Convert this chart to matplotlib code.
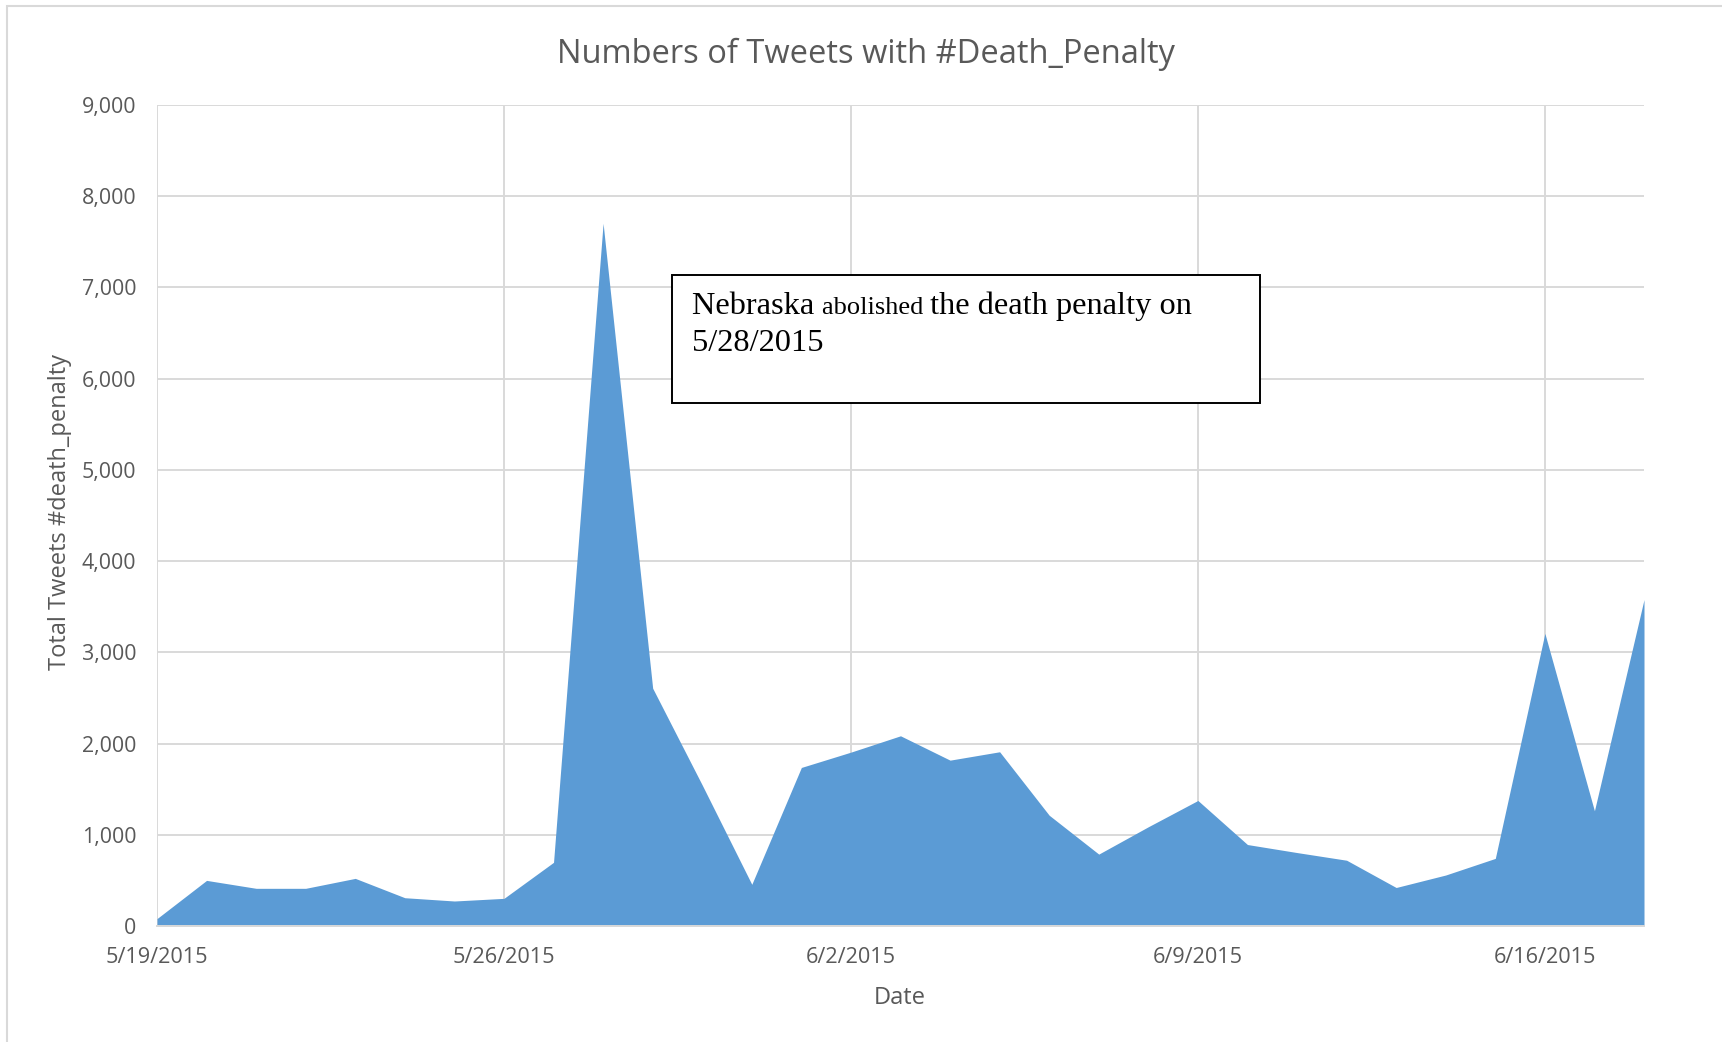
import matplotlib
matplotlib.use("Agg")
import matplotlib.pyplot as plt
import pandas as pd
from matplotlib.patches import Rectangle

dates = pd.date_range("2015-05-19", "2015-06-18", freq="D")
tweets = [81, 500, 413, 413, 522, 310, 274, 303, 698, 7703,
          2607, 1545, 457, 1738, 1906, 2085, 1818, 1910, 1214, 788,
          1088, 1376, 893, 805, 721, 422, 559, 741, 3208, 1263, 3578]
tick_dates = pd.to_datetime(["2015-05-19", "2015-05-26", "2015-06-02", "2015-06-09", "2015-06-16"])
tick_labels = ["5/19/2015", "5/26/2015", "6/2/2015", "6/9/2015", "6/16/2015"]
y_ticks = list(range(0, 9001, 1000))

W, H = 1722, 1042
fig = plt.figure(figsize=(W / 100, H / 100), dpi=100)
gray = "#595959"
grid = "#d9d9d9"

# chart area border
fig.patches.append(Rectangle((7 / W, -0.01), 1.1, 1 - 6 / H + 0.01, transform=fig.transFigure,
                             fill=False, edgecolor=grid, linewidth=1.5))

ax = fig.add_axes([157 / W, 1 - 926 / H, (1644 - 157) / W, (926 - 105) / H])
ax.fill_between(dates, tweets, 0, color="#5B9BD5", linewidth=0, zorder=2)
ax.set_xlim(dates[0], dates[-1])
ax.set_ylim(0, 9000)
ax.set_yticks(y_ticks)
ax.set_yticklabels([f"{v:,}" for v in y_ticks])
ax.set_xticks(tick_dates)
ax.set_xticklabels(tick_labels)
ax.grid(True, color=grid, linewidth=1.4, zorder=0)
ax.set_axisbelow(True)
for s in ["top", "right", "left"]:
    ax.spines[s].set_visible(False)
ax.spines["bottom"].set_color(grid)
ax.spines["bottom"].set_linewidth(1.4)
ax.spines["bottom"].set_zorder(3)
ax.tick_params(length=0, colors=gray)
ax.tick_params(axis="y", pad=15, labelsize=15.4)
ax.tick_params(axis="x", pad=15, labelsize=15.6)
for lab in ax.get_xticklabels() + ax.get_yticklabels():
    lab.set_fontfamily("Open Sans")

fig.text(866 / W, 1 - 54 / H, "Numbers of Tweets with #Death_Penalty", ha="center", va="center",
         fontsize=23.5, color=gray, family="Open Sans")
fig.text(900 / W, 1 - 998 / H, "Date", ha="center", va="center", fontsize=17, color=gray,
         family="Open Sans")
fig.text(60 / W, 1 - 512 / H, "Total Tweets #death_penalty", ha="center", va="center",
         rotation=90, fontsize=17, color=gray, family="Open Sans")

# annotation box
fig.patches.append(Rectangle((672 / W, 1 - 403 / H), (1260 - 672) / W, (403 - 275) / H,
                             transform=fig.transFigure, facecolor="white", edgecolor="black",
                             linewidth=1.4, zorder=5))
fig.canvas.draw()
renderer = fig.canvas.get_renderer()
x = 692
pieces = [("Nebraska ", 23.3), ("abolished ", 19), ("the death penalty on", 23.3)]
for txt, size in pieces:
    t = fig.text(x / W, 1 - 314 / H, txt, ha="left", va="baseline", fontsize=size,
                 family="Liberation Serif", color="black", zorder=6)
    bb = t.get_window_extent(renderer)
    x += bb.width
fig.text(692 / W, 1 - 351 / H, "5/28/2015", ha="left", va="baseline", fontsize=23.3,
         family="Liberation Serif", color="black", zorder=6)

fig.savefig("out.png", dpi=100)
